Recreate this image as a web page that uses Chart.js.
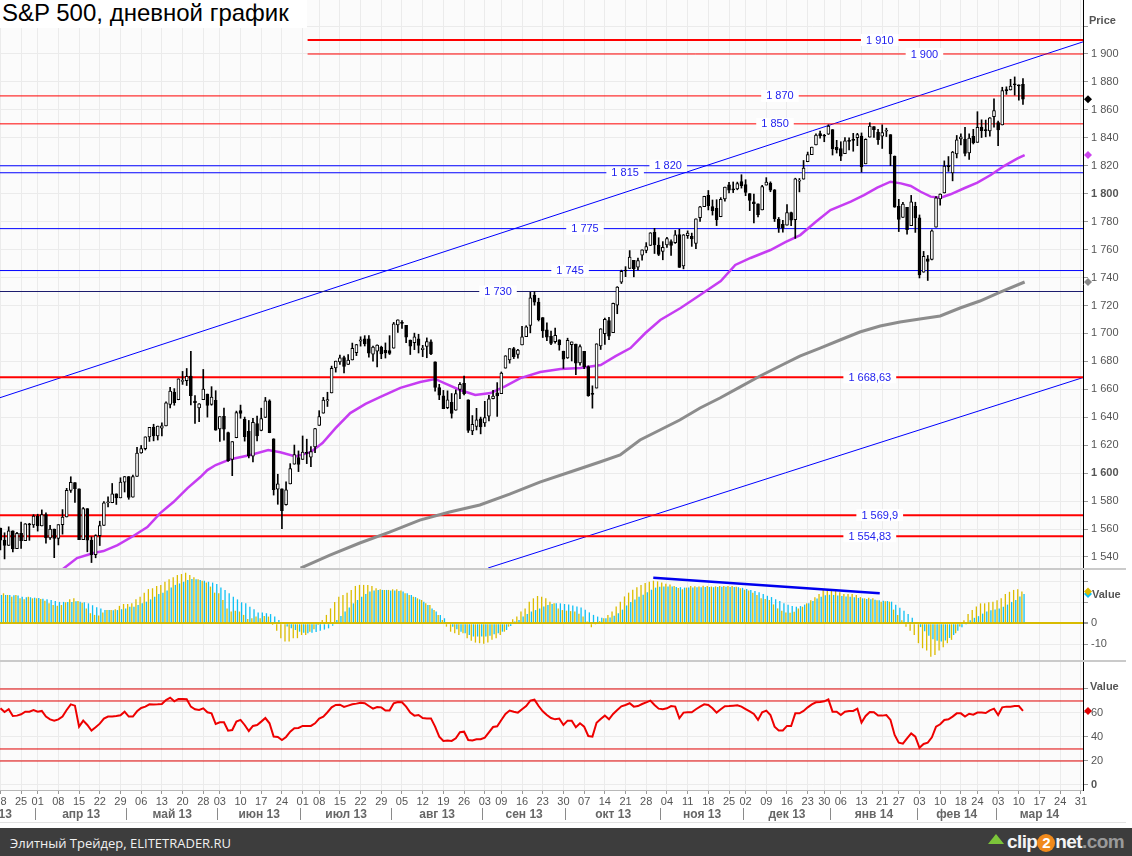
<!DOCTYPE html>
<html lang="ru">
<head>
<meta charset="utf-8">
<title>S&amp;P 500, дневной график</title>
<script src="https://cdn.jsdelivr.net/npm/chart.js@4.4.1/dist/chart.umd.min.js"></script>
<style>
  html, body { margin: 0; padding: 0; background: #fff; }
  body { position: relative; width: 1132px; height: 856px; overflow: hidden; font-family: 'Liberation Sans', Arial, sans-serif; }
  canvas { position: absolute; left: 0; }
  #priceChart { top: 0; }
  #macdChart { top: 570px; }
  #rsiChart { top: 662px; }
  .sep { position: absolute; left: 0; width: 1126px; height: 2px; background: #cacaca; }
  .axTitle { position: absolute; font: bold 11px 'Liberation Sans', Arial, sans-serif; color: #555; }
  #title { position: absolute; left: 0; top: 0; width: 307px; height: 28px; background: #fff; padding-left: 2px; box-sizing: border-box;
           font: 24px/26px 'Liberation Sans', Arial, sans-serif; color: #000; white-space: nowrap; }
  #footer { position: absolute; left: 0; top: 828px; width: 1132px; height: 28px; background: #3d3d3d; }
  #footer .txt { position: absolute; left: 10px; top: 6px; font: 13px 'Open Sans', Arial, sans-serif; color: #f0f0f0; white-space: nowrap; }
  #logo { position: absolute; right: 8px; top: 2px; height: 24px; white-space: nowrap; font: bold 19px/24px 'Liberation Sans', Arial, sans-serif; letter-spacing: -0.6px; }
  #logo .w { color: #f4f4f4; }
  #logo .g { color: #9a9a9a; }
  #logo .two { display: inline-block; width: 18px; height: 18px; border-radius: 50%; background: #f08a1c; color: #fff; text-align: center; line-height: 18px; font-size: 15px; letter-spacing: 0; }
  #logo .arr { display: inline-block; width: 0; height: 0; border-left: 8px solid transparent; border-right: 8px solid transparent; border-bottom: 10px solid #7cc53a; margin-right: 3px; vertical-align: 4px; }
</style>
</head>
<body>
<canvas id="priceChart" width="1132" height="568"></canvas>
<div class="sep" style="top:568px"></div>
<canvas id="macdChart" width="1132" height="90"></canvas>
<div class="sep" style="top:660px"></div>
<canvas id="rsiChart" width="1132" height="166"></canvas>
<div style="position:absolute;left:0;top:822px;width:1126px;height:1px;background:#e2e2e2"></div>
<div id="title">S&amp;P 500, дневной график</div>
<div class="axTitle" style="left:1089px;top:14px">Price</div>
<div class="axTitle" style="left:1092px;top:588px">Value</div>
<div class="axTitle" style="left:1090px;top:680px">Value</div>
<div id="footer">
  <div class="txt">Элитный Трейдер, ELITETRADER.RU</div>
  <div id="logo"><span class="arr"></span><span class="w">clip</span><span class="two">2</span><span class="w">net</span><span class="g">.com</span></div>
</div>
<script>
// trading days on the axis (last ones are empty future days)
const dates = [
  '2013-03-18','2013-03-19','2013-03-20','2013-03-21','2013-03-22','2013-03-25','2013-03-26','2013-03-27','2013-03-28',
  '2013-04-01','2013-04-02','2013-04-03','2013-04-04','2013-04-05','2013-04-08','2013-04-09','2013-04-10','2013-04-11','2013-04-12',
  '2013-04-15','2013-04-16','2013-04-17','2013-04-18','2013-04-19','2013-04-22','2013-04-23','2013-04-24','2013-04-25','2013-04-26',
  '2013-04-29','2013-04-30',
  '2013-05-01','2013-05-02','2013-05-03','2013-05-06','2013-05-07','2013-05-08','2013-05-09','2013-05-10','2013-05-13','2013-05-14',
  '2013-05-15','2013-05-16','2013-05-17','2013-05-20','2013-05-21','2013-05-22','2013-05-23','2013-05-24','2013-05-28','2013-05-29',
  '2013-05-30','2013-05-31',
  '2013-06-03','2013-06-04','2013-06-05','2013-06-06','2013-06-07','2013-06-10','2013-06-11','2013-06-12','2013-06-13','2013-06-14',
  '2013-06-17','2013-06-18','2013-06-19','2013-06-20','2013-06-21','2013-06-24','2013-06-25','2013-06-26','2013-06-27','2013-06-28',
  '2013-07-01','2013-07-02','2013-07-03','2013-07-05','2013-07-08','2013-07-09','2013-07-10','2013-07-11','2013-07-12','2013-07-15',
  '2013-07-16','2013-07-17','2013-07-18','2013-07-19','2013-07-22','2013-07-23','2013-07-24','2013-07-25','2013-07-26','2013-07-29',
  '2013-07-30','2013-07-31',
  '2013-08-01','2013-08-02','2013-08-05','2013-08-06','2013-08-07','2013-08-08','2013-08-09','2013-08-12','2013-08-13','2013-08-14',
  '2013-08-15','2013-08-16','2013-08-19','2013-08-20','2013-08-21','2013-08-22','2013-08-23','2013-08-26','2013-08-27','2013-08-28',
  '2013-08-29','2013-08-30',
  '2013-09-03','2013-09-04','2013-09-05','2013-09-06','2013-09-09','2013-09-10','2013-09-11','2013-09-12','2013-09-13','2013-09-16',
  '2013-09-17','2013-09-18','2013-09-19','2013-09-20','2013-09-23','2013-09-24','2013-09-25','2013-09-26','2013-09-27','2013-09-30',
  '2013-10-01','2013-10-02','2013-10-03','2013-10-04','2013-10-07','2013-10-08','2013-10-09','2013-10-10','2013-10-11','2013-10-14',
  '2013-10-15','2013-10-16','2013-10-17','2013-10-18','2013-10-21','2013-10-22','2013-10-23','2013-10-24','2013-10-25','2013-10-28',
  '2013-10-29','2013-10-30','2013-10-31',
  '2013-11-01','2013-11-04','2013-11-05','2013-11-06','2013-11-07','2013-11-08','2013-11-11','2013-11-12','2013-11-13','2013-11-14',
  '2013-11-15','2013-11-18','2013-11-19','2013-11-20','2013-11-21','2013-11-22','2013-11-25','2013-11-26','2013-11-27','2013-11-29',
  '2013-12-02','2013-12-03','2013-12-04','2013-12-05','2013-12-06','2013-12-09','2013-12-10','2013-12-11','2013-12-12','2013-12-13',
  '2013-12-16','2013-12-17','2013-12-18','2013-12-19','2013-12-20','2013-12-23','2013-12-24','2013-12-26','2013-12-27','2013-12-30',
  '2013-12-31',
  '2014-01-02','2014-01-03','2014-01-06','2014-01-07','2014-01-08','2014-01-09','2014-01-10','2014-01-13','2014-01-14','2014-01-15',
  '2014-01-16','2014-01-17','2014-01-21','2014-01-22','2014-01-23','2014-01-24','2014-01-27','2014-01-28','2014-01-29','2014-01-30',
  '2014-01-31',
  '2014-02-03','2014-02-04','2014-02-05','2014-02-06','2014-02-07','2014-02-10','2014-02-11','2014-02-12','2014-02-13','2014-02-14',
  '2014-02-18','2014-02-19','2014-02-20','2014-02-21','2014-02-24','2014-02-25','2014-02-26','2014-02-27','2014-02-28',
  '2014-03-03','2014-03-04','2014-03-05','2014-03-06','2014-03-07','2014-03-10','2014-03-11','2014-03-12','2014-03-13','2014-03-14',
  '2014-03-17','2014-03-18','2014-03-19','2014-03-20','2014-03-21','2014-03-24','2014-03-25','2014-03-26','2014-03-27','2014-03-28',
  '2014-03-31'
];

const opens = [
  1560.7,1552.1,1548.3,1558.7,1545.9,1556.9,1551.7,1563.8,1562.9,1569.2,
  1562.2,1570.3,1553.7,1560.0,1553.3,1563.1,1568.6,1587.7,1593.3,1588.8,
  1552.4,1574.6,1552.0,1541.6,1555.3,1562.5,1578.8,1578.8,1585.2,1582.3,
  1593.6,1597.6,1582.8,1597.6,1614.4,1617.5,1625.9,1632.7,1626.7,1632.1,
  1633.8,1649.1,1658.1,1652.5,1665.7,1666.2,1669.4,1651.6,1646.7,1652.6,
  1656.6,1649.1,1652.1,1631.7,1640.7,1629.1,1609.9,1625.3,1644.7,1638.6,
  1629.9,1612.2,1635.5,1630.6,1639.8,1651.8,1624.6,1588.6,1588.8,1577.5,
  1592.3,1606.4,1611.1,1609.8,1614.3,1611.5,1618.7,1634.2,1642.9,1651.6,
  1657.4,1675.3,1679.6,1682.7,1677.9,1681.0,1686.2,1694.4,1696.1,1696.1,
  1685.2,1687.3,1690.3,1687.9,1687.8,1689.4,1706.1,1708.0,1705.8,1695.3,
  1693.4,1696.1,1688.4,1690.7,1693.9,1679.6,1661.2,1655.3,1646.8,1650.7,
  1645.0,1659.9,1664.3,1652.5,1630.3,1633.5,1638.9,1635.9,1640.7,1653.3,
  1657.4,1656.9,1675.1,1681.0,1689.2,1685.0,1691.7,1697.7,1705.7,1727.3,
  1722.4,1711.4,1702.6,1698.0,1694.1,1695.5,1687.3,1682.4,1691.9,1692.4,
  1678.8,1687.2,1676.2,1657.0,1660.9,1691.1,1699.9,1709.2,1700.5,1720.2,
  1736.7,1745.2,1746.5,1752.3,1747.5,1756.0,1759.4,1762.9,1772.3,1763.2,
  1758.7,1763.4,1765.7,1765.0,1770.7,1748.4,1770.0,1769.5,1764.4,1782.8,
  1790.7,1798.8,1790.8,1789.6,1783.5,1796.2,1806.3,1802.9,1803.5,1808.7,
  1806.6,1800.1,1794.1,1792.8,1788.4,1806.2,1807.6,1802.8,1781.7,1778.0,
  1777.5,1786.5,1781.5,1809.0,1810.4,1822.9,1828.0,1835.0,1843.0,1841.5,
  1842.6,1845.9,1833.2,1832.3,1828.7,1837.9,1839.0,1840.1,1841.3,1821.4,
  1840.5,1848.0,1844.2,1841.1,1844.7,1842.3,1827.0,1791.0,1783.0,1790.2,
  1777.2,1790.9,1782.7,1743.8,1753.4,1753.0,1776.0,1796.2,1800.5,1820.1,
  1814.8,1828.5,1839.3,1838.9,1829.2,1841.1,1836.8,1847.7,1845.8,1844.9,
  1855.1,1851.0,1849.2,1874.1,1874.2,1878.5,1877.9,1878.3
];
const highs = [
  1560.7,1557.3,1561.6,1558.7,1557.7,1564.9,1563.9,1564.1,1570.3,1570.6,
  1573.7,1571.5,1562.6,1560.0,1563.1,1573.9,1589.1,1597.4,1593.3,1588.8,
  1575.4,1574.6,1554.4,1555.9,1565.6,1579.6,1583.0,1592.6,1585.2,1596.7,
  1597.6,1597.6,1598.6,1618.5,1619.8,1626.0,1632.8,1635.0,1633.7,1636.0,
  1651.1,1661.5,1660.5,1667.5,1672.8,1674.9,1687.2,1655.5,1649.8,1674.2,
  1656.6,1661.9,1659.0,1640.4,1646.5,1629.3,1622.6,1644.4,1648.7,1640.1,
  1637.7,1639.3,1640.8,1646.5,1654.2,1652.5,1624.6,1599.2,1588.8,1593.8,
  1606.8,1620.1,1615.9,1626.6,1624.3,1619.0,1632.1,1644.7,1654.2,1657.9,
  1676.6,1680.2,1684.5,1683.7,1684.8,1693.1,1692.1,1697.6,1698.4,1698.4,
  1690.9,1691.9,1690.9,1693.2,1698.4,1707.9,1709.7,1709.2,1705.8,1695.3,
  1700.2,1699.4,1691.5,1696.8,1695.5,1679.6,1663.6,1659.2,1658.9,1657.0,
  1659.6,1664.9,1669.5,1652.5,1641.2,1646.4,1640.1,1651.4,1655.7,1659.2,
  1664.8,1672.4,1684.1,1689.1,1690.0,1688.7,1705.0,1705.5,1729.4,1729.9,
  1725.2,1711.4,1707.6,1701.7,1703.9,1695.5,1687.3,1696.6,1693.9,1692.4,
  1691.9,1687.2,1676.8,1662.5,1692.6,1703.4,1711.0,1711.6,1721.8,1733.5,
  1745.3,1747.8,1759.3,1752.3,1753.9,1759.8,1765.0,1772.1,1775.2,1768.5,
  1765.7,1768.8,1767.0,1773.7,1774.5,1770.8,1773.4,1771.8,1782.0,1791.0,
  1798.2,1802.3,1795.5,1795.7,1797.2,1804.8,1808.1,1808.4,1808.3,1813.6,
  1810.0,1800.1,1799.8,1792.8,1806.0,1811.5,1808.5,1803.0,1783.0,1780.9,
  1792.2,1786.8,1811.1,1810.9,1823.8,1829.8,1833.3,1842.8,1844.9,1842.5,
  1849.4,1845.9,1838.2,1837.2,1840.1,1840.0,1843.2,1843.2,1843.5,1839.3,
  1850.8,1848.0,1846.0,1849.3,1846.9,1842.3,1827.0,1796.0,1793.9,1790.2,
  1798.8,1793.9,1784.8,1758.7,1755.8,1774.1,1798.0,1799.9,1823.5,1826.6,
  1830.3,1841.7,1842.9,1847.5,1842.8,1846.1,1858.7,1852.9,1852.7,1854.5,
  1867.9,1852.0,1876.2,1876.5,1881.9,1883.6,1877.9,1882.4
];
const lows = [
  1545.1,1538.6,1548.3,1543.6,1545.9,1546.2,1551.7,1551.9,1561.1,1558.5,
  1562.2,1549.8,1552.5,1539.5,1548.6,1556.3,1568.6,1586.2,1579.0,1552.3,
  1552.4,1543.7,1536.0,1539.4,1548.2,1562.5,1575.8,1578.8,1577.6,1582.3,
  1586.5,1581.3,1582.8,1597.6,1614.2,1616.6,1622.7,1623.1,1623.7,1626.7,
  1633.8,1646.7,1648.6,1652.5,1663.5,1662.7,1648.9,1635.5,1636.9,1652.6,
  1640.1,1648.6,1630.7,1622.7,1623.6,1608.4,1598.2,1625.3,1639.3,1622.9,
  1610.9,1608.1,1623.0,1630.3,1639.8,1628.9,1584.3,1577.7,1560.3,1577.1,
  1592.3,1606.4,1601.1,1609.8,1606.8,1604.6,1614.7,1634.2,1642.9,1647.7,
  1657.4,1672.3,1677.9,1671.8,1677.9,1681.0,1684.1,1690.9,1691.0,1683.0,
  1680.2,1676.0,1681.9,1682.4,1684.9,1689.4,1700.7,1703.6,1693.3,1684.9,
  1688.4,1686.0,1683.4,1682.6,1684.8,1658.6,1652.6,1646.1,1646.1,1639.4,
  1645.0,1653.3,1656.0,1629.1,1627.5,1630.9,1628.1,1633.4,1637.4,1653.1,
  1640.6,1656.9,1675.1,1678.7,1682.0,1682.2,1691.7,1697.7,1700.4,1720.2,
  1708.9,1697.1,1694.9,1691.9,1693.1,1688.0,1675.0,1682.1,1680.3,1670.4,
  1677.3,1674.7,1655.0,1646.5,1660.9,1688.5,1692.1,1695.5,1700.5,1714.1,
  1735.7,1740.6,1746.5,1740.5,1745.5,1752.5,1757.7,1762.9,1757.2,1755.7,
  1752.7,1761.6,1755.8,1764.4,1747.2,1746.2,1768.0,1762.3,1760.6,1780.2,
  1790.7,1788.4,1784.7,1777.2,1783.5,1794.7,1800.6,1800.8,1802.8,1804.0,
  1798.6,1787.9,1779.1,1783.4,1788.4,1806.2,1801.4,1780.1,1772.3,1772.5,
  1777.5,1777.2,1768.0,1801.3,1810.4,1822.9,1828.0,1835.0,1839.8,1837.2,
  1842.4,1827.7,1829.1,1823.7,1828.7,1831.4,1830.4,1834.4,1815.5,1821.4,
  1840.5,1840.3,1835.2,1832.4,1840.9,1820.1,1790.3,1772.9,1783.0,1771.0,
  1777.2,1772.3,1739.7,1743.8,1737.9,1752.6,1776.0,1791.8,1800.5,1816.0,
  1809.2,1825.6,1835.0,1827.0,1824.6,1835.6,1836.8,1840.2,1840.7,1841.1,
  1847.7,1834.4,1849.2,1871.1,1874.2,1870.6,1867.0,1863.9
];
const closes = [
  1552.1,1548.3,1558.7,1545.8,1556.9,1551.7,1563.8,1562.9,1569.2,1562.2,
  1570.3,1553.7,1560.0,1553.3,1563.1,1568.6,1587.7,1593.4,1588.9,1552.4,
  1574.6,1552.0,1541.6,1555.3,1562.5,1578.8,1578.8,1585.2,1582.2,1593.6,
  1597.6,1582.7,1597.6,1614.4,1617.5,1626.0,1632.7,1626.7,1633.7,1633.8,
  1650.3,1658.8,1650.5,1667.5,1666.3,1669.2,1655.4,1650.5,1649.6,1660.1,
  1648.4,1654.4,1630.7,1640.4,1631.4,1608.9,1622.6,1643.4,1642.8,1626.1,
  1612.5,1636.4,1626.7,1639.0,1651.8,1628.9,1588.2,1592.4,1573.1,1588.0,
  1603.3,1613.2,1606.3,1615.0,1614.1,1615.4,1631.9,1640.5,1652.3,1652.6,
  1675.0,1680.2,1682.5,1676.3,1680.9,1689.4,1692.1,1695.5,1692.4,1685.9,
  1690.3,1691.7,1685.3,1686.0,1685.7,1706.9,1709.7,1707.1,1697.4,1690.9,
  1697.5,1691.4,1689.5,1694.2,1685.4,1661.3,1655.8,1646.1,1652.4,1642.8,
  1657.0,1663.5,1656.8,1630.5,1635.0,1638.2,1633.0,1639.8,1653.1,1655.1,
  1655.2,1671.7,1684.0,1689.1,1683.4,1688.0,1697.6,1704.8,1725.5,1722.3,
  1709.9,1701.8,1697.4,1692.8,1698.7,1691.8,1681.6,1695.0,1693.9,1678.7,
  1690.5,1676.1,1655.5,1656.4,1692.6,1703.2,1710.1,1698.1,1721.5,1733.2,
  1744.5,1744.7,1754.7,1746.4,1752.1,1759.8,1762.1,1772.0,1763.3,1756.5,
  1761.6,1767.9,1763.0,1770.5,1747.2,1770.6,1771.9,1767.7,1782.0,1790.6,
  1798.2,1791.5,1787.9,1781.4,1795.9,1804.8,1802.5,1802.8,1807.2,1805.8,
  1800.9,1795.2,1792.8,1785.0,1805.1,1808.4,1802.6,1782.2,1775.5,1775.3,
  1786.5,1781.0,1810.7,1809.6,1818.3,1828.0,1833.3,1842.0,1841.4,1841.1,
  1848.4,1832.0,1831.4,1826.8,1837.9,1837.5,1838.1,1842.4,1819.2,1838.9,
  1848.4,1845.9,1838.7,1843.8,1844.9,1828.5,1790.3,1781.6,1792.5,1774.2,
  1794.2,1782.6,1741.9,1755.2,1751.6,1773.4,1797.0,1799.8,1819.8,1819.3,
  1829.8,1838.6,1840.8,1828.8,1839.8,1836.3,1847.6,1845.1,1845.2,1854.3,
  1859.5,1845.7,1873.9,1873.8,1877.0,1878.0,1877.2,1867.6
];

// moving averages: [day index, value]
const ma50 = [
  [14.5,1530],[18.5,1539.2],[22.5,1542.8],[24.9,1544.2],[28.3,1548.5],[32.1,1555],[35.5,1561.4],[38.6,1571.4],
  [41.8,1579.3],[45.2,1589.3],[48.3,1597.2],[50,1602.2],[52,1605.8],[55.6,1610],[60.4,1613],[64.7,1616.5],
  [67.6,1615],[71.3,1612],[74.9,1615],[77.8,1621.5],[80.9,1632],[84.5,1643],[88.2,1649.5],[91.8,1654.5],
  [96.6,1661],[101.4,1665.2],[105,1667.4],[107.5,1664],[111,1659.5],[114.7,1656],[118.4,1657.3],[122,1662.3],
  [125.6,1668],[130.4,1672.4],[135.3,1674.5],[140.1,1675.2],[145,1677.4],[148.6,1683.8],[152.2,1689.5],
  [155.8,1700.3],[159.4,1709.6],[164.3,1718.2],[169,1727.5],[174,1737.5],[177.5,1749],[181.2,1754],
  [186,1759.7],[189.6,1765.4],[193.2,1770.4],[196.9,1779.7],[200.5,1788.3],[205.4,1794.3],[208.6,1799],
  [211.8,1804.3],[215,1808.6],[217.5,1807.4],[219.9,1805.5],[222.3,1801.4],[224.7,1797.9],[227.1,1797.1],
  [229.5,1799.6],[232.8,1803.9],[236,1807.9],[239.2,1813.4],[242.4,1819.8],[245.7,1825.3],[247.4,1827.7]
];
const ma200 = [
  [72.5,1532],[79.6,1541.4],[86.8,1550],[94,1557.8],[101.3,1566.4],[108.5,1572.2],[115.8,1577.2],[123,1585],
  [130.3,1593.6],[137.6,1600.8],[144.8,1608],[149.7,1613],[154.5,1623.7],[159.3,1630.9],[164.1,1638],
  [169,1646.6],[173.8,1653.8],[178.6,1661.6],[183.5,1669.5],[188.3,1676.7],[193.1,1683.8],[198,1689.5],
  [202.8,1695.3],[207.6,1701],[212.5,1705.3],[217.3,1708.2],[222.1,1710.3],[227,1712.5],[231.8,1718.2],
  [236.6,1723.2],[241.5,1729.6],[247.4,1736.8]
];

// horizontal levels
const levels = [1910, 1900, 1870, 1850, 1820, 1815, 1775, 1745, 1730, 1668.63, 1569.9, 1554.83];
// channel lines: [day index, price]
const channelTop = [[-0.1, 1654.0], [261.5, 1908.7]];
const channelBottom = [[117.8, 1532.1], [261.5, 1668.4]];

// oscillator panel
const macd = [
  15.1,14.3,13.5,12.7,13.5,11.9,11.4,12.7,11.9,11.9,
  11.6,10.8,9.5,8.7,8.4,8.7,10,11.4,11.9,10.6,
  9.8,7.1,4.8,4.0,3.7,5.1,6.3,6.3,6.7,8.3,
  9.2,9.2,9.5,11.4,12.7,14.6,16.3,16.7,17.8,18.3,
  19.8,21,21.9,23,23.5,24.1,23,21.9,21,20.3,
  19.4,17.5,14.6,14.3,11.1,7.1,5.6,6,5.6,4,
  2.1,2.4,3.2,2.4,3.5,3.2,-0.8,-3.5,-7.1,-8.7,
  -8.7,-7.1,-7.1,-5.6,-5.6,-4,-2.9,-0.8,1.6,4,
  7.1,10.2,12.7,13.5,14.6,15.9,17.8,18.3,18.3,18.3,
  17.8,16.7,16.2,15.9,15.9,16.2,16.2,15.6,14.3,13.5,
  12.7,11.9,11.1,9.5,8.7,6.3,4,1.6,-1.6,-4,
  -4.8,-5.6,-4.8,-7.1,-8.3,-9.2,-9.5,-9.8,-9.2,-7.9,
  -7.1,-5.6,-4,-1.6,1.9,3.2,5.6,7.1,10.3,11.9,
  13,12.7,11.9,10.3,9.5,7.1,6.3,6.0,5.8,5.6,
  4.5,3.2,0.8,-1.9,-0.3,1.0,2.4,4.0,5.6,8.0,
  10.3,12.8,14.6,16.0,17.2,18.3,19.2,19.8,20.3,20.0,
  19.4,18.9,18.5,17.8,16.8,16.2,17.0,17.8,17.6,17.5,
  17.9,17.8,17.5,17.6,17.8,17.8,17.8,17.8,17.4,16.7,
  16.0,15.6,14.5,13.5,11.9,11.6,11.1,9.0,7.1,6.0,
  5.1,5.0,5.5,7.0,7.9,9.5,11.0,12.4,14.0,15.9,
  16.2,16.0,15.6,14.8,14.0,14.0,14.0,13.5,12.5,11.9,
  12.2,11.9,11.0,10.3,10.5,10.3,6.5,4.0,1.5,-1.6,
  -3.5,-5.6,-9.5,-11.9,-13.0,-15.9,-15.1,-13.0,-11.4,-9.5,
  -7.9,-4.8,-1.5,1.5,4.4,6.3,8.0,9.5,9.5,10.0,
  10.3,11.0,11.9,14.0,15.0,15.9,16.2,15.1
];
const signal = [
  13.5,13.5,13.5,13.4,13.2,12.7,12.4,12.4,12.2,12.1,
  11.7,11.4,11.1,10.6,10.2,10.2,10.2,10.2,10.5,10.3,
  10,9.5,8.6,7.6,7,6.3,6.3,6.2,6.3,6.7,
  7.1,7.9,7.9,8.7,9.5,10.3,11.4,12.7,14,14.6,
  15.6,17.1,18.3,19,19.8,20.6,21.1,21,20.6,20.3,
  19.8,19.4,18.7,17.1,15.9,14.3,12.7,11.4,10,9.5,
  7.9,6.7,5.1,5.1,4.8,4.4,3.2,1.6,0,-1.5,
  -2.4,-3.2,-4,-4.5,-4.8,-4.5,-4.2,-3.5,-3,-2.4,
  -1.2,1.6,3.5,5.6,7.5,9.5,11.1,12.7,14,15.1,
  15.6,15.9,15.9,15.9,15.6,15.6,15.4,15.1,14.3,13.5,
  12.5,11.4,10.3,8.7,7.1,5.6,4,2.4,0,-1.6,
  -2.9,-4,-4.8,-5.6,-6.3,-6.3,-6.3,-6.3,-6.0,-5.2,
  -4.8,-4,-3.2,-1.3,0.8,1.6,3.2,4.4,5.6,6.3,
  7.1,8.0,8.7,9.2,9.5,9.5,9.2,8.9,8.5,8.0,
  7.5,6.5,5.2,4.0,3.2,2.6,2.4,2.8,3.6,4.8,
  6.5,8.5,10.2,11.3,12.6,13.6,14.8,16.0,17.0,17.4,
  17.5,17.5,17.5,17.3,17.2,17.0,17.0,17.1,17.2,17.2,
  17.3,17.3,17.2,17.3,17.4,17.4,17.3,17.3,17.2,16.9,
  16.3,15.9,15.4,14.8,14.0,13.1,12.5,11.4,10.6,9.6,
  8.8,8.2,7.9,8.2,8.9,9.5,10.6,11.8,12.7,13.4,
  13.6,13.5,13.2,13.0,12.8,12.6,12.4,12.1,11.9,11.6,
  11.4,11.2,11.0,10.8,10.6,10.3,8.8,7.4,6.0,4.4,
  2.6,0.5,-1.8,-3.8,-6.0,-7.6,-8.3,-8.7,-8.2,-7.0,
  -5.6,-3.6,-1.9,-0.2,1.4,2.6,3.4,4.6,5.6,6.2,
  6.6,7.1,7.9,8.9,10.2,11.1,12.8,14.0
];
const divergence = [[157.7, 21.7], [212.4, 14.3]];

// RSI panel
const rsi = [
  63.9,60.8,63.1,57.5,57.8,58.9,61.1,61.1,62.5,61.1,
  61.7,57,54.7,53.6,54.7,57,62.5,67.2,66.1,48.6,
  53.6,50,45.3,48.1,51.1,55.3,57,57,57.5,58.1,
  61.1,57,57,61.4,64.2,65.3,67.2,67,67.2,67.5,
  70.8,72.8,69.7,71.7,71.7,71.4,65.3,63.1,62.5,63.9,
  60.6,59.7,50.8,52.2,52.2,45.3,45.8,52.8,54.2,50,
  45,49.2,50,52.8,55.8,51.4,40.3,40,37.5,40,
  44.4,47.2,47.5,49.2,49.2,49.2,51.4,55.3,57,60.6,
  64.7,66.7,66.9,65,66.1,67.2,67.8,68.6,68.1,65.8,
  63.6,65,64.7,62,62,68.1,69.2,68.9,65.3,60.3,
  57.8,58.3,55.8,55.5,55.5,48.6,40.3,36.7,37,36.7,
  38.9,43.9,44.4,37.5,37,38.1,38.1,39.4,43.9,48.3,
  48.9,54.2,59.2,62,61.1,60.3,63.1,65.8,70.3,71.1,
  65.8,61.4,58.3,55.8,54.7,55.3,50,53.6,53.6,48.1,
  51.4,48.6,40.8,40.3,51.9,55,57.8,54.7,59.2,62.5,
  65.6,66.7,68.1,65.3,65.8,67.5,68.9,70.3,66.7,63.6,
  63.1,63.9,65.8,65.3,55.6,60.3,60.6,60.6,63.1,65.3,
  67.2,66.7,63.9,60.3,63.1,65.6,65.8,66.1,66.4,65.3,
  63.3,61.4,59.2,54.2,60.6,62,58.3,48.6,45.5,45.5,
  49.2,49.2,59.7,59.7,61.7,64.7,67.2,68.9,69.2,69.7,
  71.4,61.1,61.1,58.3,61.1,61.7,61.7,63.6,52,57.5,
  60.8,60.6,57.8,57.8,58.3,54.2,41.7,35.3,34.4,38.9,
  43,40.3,31,34.2,35.3,39.7,48.6,50.6,54.2,54.7,
  57,59.7,59.7,57,59.4,58.6,60.3,60.3,60,62.2,
  63.6,58.3,64.7,65.3,65.3,65.8,65.8,61.7
];
const rsiBands = [80, 70, 30, 20];

const priceTicks = [1540,1560,1580,1600,1620,1640,1660,1680,1700,1720,1740,1760,1780,1800,1820,1840,1860,1880,1900,1920];
const macdTicks = [-10, 0, 10, 20];
const rsiTicks = [0, 20, 40, 60, 80];

// ---- layout / style ----
const X_MIN = -0.1, X_MAX = 261.5;
const P_MIN = 1532.1, P_MAX = 1938.65;
const M_MIN = -17.5, M_MAX = 25.4;
const R_MIN = -4.2, R_MAX = 102.5;
const AXIS_W = 49;
const GRID = '#ebebeb';
const FONT = 'Liberation Sans';
const MACD_GAP = 0.26;
const YELLOW = '#dcbc00', CYAN = '#10c0f4';

const levelColor = ['#ff0000','#ff0000','#ff0000','#ff0000','#0000ff','#0000ff','#0000ff','#0000ff','#1c1c6e','#ff0000','#ff0000','#ff0000'];
const levelWidth = [2,1,1,1,1,1,1,1,1,2,2,2];
const levelFrom = [74.2,74.2,X_MIN,X_MIN,X_MIN,X_MIN,X_MIN,X_MIN,X_MIN,X_MIN,X_MIN,X_MIN];
const levelLabelAt = [212.4,223.2,188.3,187.1,161.3,150.9,141.2,137.6,120.2,210,212.4,210];

Chart.defaults.font.family = FONT;

const dow = s => new Date(s + 'T00:00:00Z').getUTCDay();
const weekTicks = dates.map((d, i) => i).filter(i => i === 0 || dow(dates[i]) < dow(dates[i - 1]));
const monthNames = ['янв','фев','мар','апр','май','июн','июл','авг','сен','окт','ноя','дек'];
const monthMarks = [];
{
  let start = 0;
  for (let i = 1; i <= dates.length; i++) {
    if (i < dates.length && dates[i].slice(0, 7) === dates[start].slice(0, 7)) continue;
    const last = i - 1;
    const text = monthNames[+dates[start].slice(5, 7) - 1] + ' ' + dates[start].slice(2, 4);
    if (start > 0) monthMarks.push({at: start - 0.5, sep: true, text: ''});
    monthMarks.push({at: start > 0 ? (start + last) / 2 : last - 10, sep: false, text});
    start = i;
  }
}

const spaced = v => String(v).replace(/\B(?=(\d{3})+(?!\d))/g, ' ');
const ruNum = v => { const [a, b] = String(v).split('.'); return spaced(a) + (b ? ',' + b : ''); };
const pts = arr => arr.map(([x, y]) => ({x, y}));
const zeroPad = s => { s.paddingLeft = s.paddingRight = s.paddingTop = s.paddingBottom = 0; };
const line = (data, color, width, order) => ({type: 'line', data, borderColor: color, borderWidth: width,
  pointRadius: 0, fill: false, tension: 0, order: order === undefined ? 2 : order});

function hiddenX() {
  return {
    type: 'linear', min: X_MIN, max: X_MAX, bounds: 'data', offset: false,
    afterBuildTicks: s => { s.ticks = weekTicks.map(v => ({value: v})); },
    afterFit: s => { s.height = 0; zeroPad(s); },
    grid: {color: GRID, offset: false, drawTicks: false},
    border: {display: false},
    ticks: {display: false}
  };
}
function rightY(min, max, ticks, label, bold) {
  return {
    position: 'right', min, max, bounds: 'data', beginAtZero: false,
    afterBuildTicks: s => { s.ticks = ticks.map(v => ({value: v})); },
    afterFit: s => { s.width = AXIS_W; zeroPad(s); },
    grid: {color: GRID, tickColor: '#999', tickLength: 5},
    border: {display: true, color: '#000', width: 1},
    ticks: {padding: 3, color: '#555', callback: label,
      font: c => ({family: FONT, size: 11, weight: c.tick && bold(c.tick.value) ? 'bold' : 'normal'})}
  };
}

const plotBg = {
  id: 'plotBg',
  beforeDraw(chart) {
    const {ctx, chartArea: a} = chart;
    ctx.save();
    ctx.fillStyle = '#fbfbfb';
    ctx.fillRect(a.left, a.top, a.width, a.height);
    ctx.restore();
  }
};
function axisMarks(list) {
  return {
    id: 'axisMarks',
    afterDraw(chart) {
      const {ctx, chartArea, scales} = chart;
      ctx.save();
      list.forEach(([v, color]) => {
        const x = chartArea.right + 5, y = scales.y.getPixelForValue(v);
        ctx.fillStyle = color;
        ctx.beginPath();
        ctx.moveTo(x, y - 4); ctx.lineTo(x + 4, y); ctx.lineTo(x, y + 4); ctx.lineTo(x - 4, y);
        ctx.closePath(); ctx.fill();
      });
      ctx.restore();
    }
  };
}
const levelLabels = {
  id: 'levelLabels',
  afterDatasetsDraw(chart) {
    const {ctx, scales: {x, y}} = chart;
    ctx.save();
    ctx.font = '11px "' + FONT + '"';
    ctx.textAlign = 'center';
    ctx.textBaseline = 'middle';
    levels.forEach((lv, k) => {
      const text = ruNum(lv);
      const px = x.getPixelForValue(levelLabelAt[k]), py = y.getPixelForValue(lv);
      const w = ctx.measureText(text).width + 10;
      ctx.fillStyle = '#fff';
      ctx.fillRect(px - w / 2, py - 6, w, 12);
      ctx.fillStyle = '#2222ee';
      ctx.fillText(text, px, py + 0.5);
    });
    ctx.restore();
  }
};

const common = {
  responsive: false, animation: false, devicePixelRatio: 1, events: [],
  layout: {padding: 0, autoPadding: false},
  plugins: {legend: {display: false}, tooltip: {enabled: false}}
};
const last = closes.length - 1;

// ---- price panel ----
new Chart(document.getElementById('priceChart'), {
  type: 'bar',
  data: {
    datasets: [
      {type: 'bar', data: closes.map((c, i) => ({x: i, y: [opens[i], c]})), grouped: false, barThickness: 3,
        minBarLength: 1, borderWidth: 1, borderSkipped: false, borderColor: '#000',
        backgroundColor: c => (c.raw && c.raw.y[1] >= c.raw.y[0]) ? '#fff' : '#000', order: 0},
      {type: 'bar', data: closes.map((c, i) => ({x: i, y: [lows[i], highs[i]]})), grouped: false,
        barThickness: 1, backgroundColor: '#000', order: 1},
      ...levels.map((lv, k) => line([{x: levelFrom[k], y: lv}, {x: X_MAX + 1, y: lv}], levelColor[k], levelWidth[k], 3)),
      line(pts(channelTop), '#0000ff', 1, 3),
      line(pts(channelBottom), '#0000ff', 1, 3),
      line(pts(ma200), '#8c8c8c', 3, 2),
      line(pts(ma50), '#c63cf2', 2.5, 2)
    ]
  },
  options: Object.assign({}, common, {
    scales: {
      x: hiddenX(),
      y: rightY(P_MIN, P_MAX, priceTicks, v => v > 1900 ? '' : spaced(v), v => v % 200 === 0)
    }
  }),
  plugins: [plotBg, levelLabels, axisMarks([[closes[last], '#000'], [ma50[ma50.length - 1][1], '#cc44ee'], [ma200[ma200.length - 1][1], '#888']])]
});

// ---- oscillator panel ----
const macdY = rightY(M_MIN, M_MAX, macdTicks, v => (v === 0 || v === -10) ? String(v) : '', v => false);
macdY.grid = {color: c => c.tick && c.tick.value === 0 ? '#d8bb00' : GRID,
  lineWidth: c => c.tick && c.tick.value === 0 ? 2 : 1, tickColor: '#999', tickLength: 5};
new Chart(document.getElementById('macdChart'), {
  type: 'bar',
  data: {
    datasets: [
      {type: 'bar', data: macd.map((v, i) => ({x: i - MACD_GAP, y: v})), grouped: false, barThickness: 1.3,
        inflateAmount: 0, backgroundColor: YELLOW, order: 1},
      {type: 'bar', data: signal.map((v, i) => ({x: i + MACD_GAP, y: v})), grouped: false, barThickness: 1.3,
        inflateAmount: 0, backgroundColor: CYAN, order: 1},
      line(pts(divergence), '#0000ee', 2.5, 0)
    ]
  },
  options: Object.assign({}, common, {scales: {x: hiddenX(), y: macdY}}),
  plugins: [plotBg, axisMarks([[signal[last], CYAN], [macd[last], YELLOW]])]
});

// ---- RSI panel with date axis ----
const rsiX = hiddenX();
rsiX.afterFit = s => { s.height = 18; zeroPad(s); };
rsiX.grid = {color: GRID, offset: false, drawTicks: true, tickLength: 4, tickColor: '#999'};
rsiX.border = {display: true, color: '#b8b8b8', width: 1};
rsiX.ticks = {display: true, autoSkip: false, maxRotation: 0, padding: 1, color: '#555',
  font: {family: FONT, size: 11}, callback: v => dates[v] ? dates[v].slice(8) : ''};
const monthX = {
  type: 'linear', position: 'bottom', min: X_MIN, max: X_MAX, bounds: 'data', offset: false,
  afterBuildTicks: s => { s.ticks = monthMarks.map(m => ({value: m.at})); },
  afterFit: s => { s.height = 20; zeroPad(s); },
  grid: {drawOnChartArea: false, offset: false, tickLength: 12,
    color: c => (monthMarks[c.index] && monthMarks[c.index].sep) ? '#8a8a8a' : 'rgba(0,0,0,0)'},
  border: {display: false},
  ticks: {autoSkip: false, maxRotation: 0, padding: -13, color: '#666',
    font: {family: FONT, size: 12, weight: 'bold'}, callback: (v, i) => monthMarks[i] ? monthMarks[i].text : ''}
};
new Chart(document.getElementById('rsiChart'), {
  type: 'line',
  data: {
    datasets: [
      ...rsiBands.map(b => line([{x: X_MIN, y: b}, {x: X_MAX + 1, y: b}], '#e00000', 1, 1)),
      line(rsi.map((v, i) => ({x: i, y: v})), '#ee0000', 2, 0)
    ]
  },
  options: Object.assign({}, common, {
    scales: {
      x: rsiX,
      x2: monthX,
      y: rightY(R_MIN, R_MAX, rsiTicks, v => v === 80 ? '' : String(v), v => v === 0)
    }
  }),
  plugins: [plotBg, axisMarks([[rsi[last], '#e00000']])]
});
</script>
</body>
</html>
